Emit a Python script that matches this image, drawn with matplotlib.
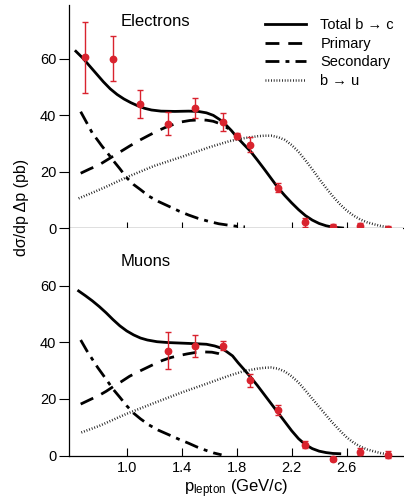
import matplotlib

matplotlib.use("Agg")
import matplotlib.pyplot as plt

plt.rcParams["font.family"] = ["Liberation Sans", "DejaVu Sans"]
plt.rcParams["mathtext.fontset"] = "custom"
plt.rcParams["mathtext.rm"] = "Liberation Sans"
plt.rcParams["mathtext.it"] = "Liberation Sans:italic"

# ---- data ----
# electrons: measured points
e_p = [0.7, 0.9, 1.1, 1.3, 1.5, 1.7, 1.8, 1.9, 2.1, 2.3, 2.5, 2.7, 2.9]
e_val = [60.5, 59.9, 43.9, 37.0, 42.6, 37.4, 32.7, 29.5, 14.3, 2.0, 0.4, 0.6, -0.4]
e_err = [12.5, 8.0, 5.0, 4.2, 3.6, 3.2, 1.0, 2.7, 1.5, 1.5, 1.0, 1.0, 1.0]

# electrons: model curves
e_total_p = [0.63, 0.68, 0.73, 0.78, 0.83, 0.88, 0.93, 0.98, 1.03, 1.08, 1.13, 1.18,
             1.25, 1.35, 1.45, 1.52, 1.58, 1.63, 1.68, 1.72, 1.76, 1.80, 1.85, 1.90,
             1.95, 2.00, 2.05, 2.10, 2.15, 2.20, 2.25, 2.30, 2.35, 2.40, 2.45, 2.50, 2.57]
e_total = [62.6, 60.2, 57.4, 54.6, 51.8, 49.3, 47.3, 45.7, 44.4, 43.3, 42.4, 41.8,
           41.4, 41.3, 41.4, 41.3, 40.8, 39.9, 38.3, 36.6, 34.6, 32.3, 29.7, 27.2,
           24.1, 20.9, 17.6, 14.3, 11.5, 8.9, 6.5, 4.4, 2.8, 1.6, 0.8, 0.3, 0.0]
e_prim_p = [0.665, 0.73, 0.80, 0.85, 0.90, 0.96, 1.02, 1.09, 1.16, 1.22, 1.28, 1.34,
            1.40, 1.46, 1.53, 1.58, 1.63, 1.67, 1.70, 1.74]
e_prim = [19.4, 20.9, 22.4, 23.9, 25.4, 27.2, 29.0, 31.0, 32.8, 34.3, 35.6, 36.7,
          37.6, 38.1, 38.3, 38.2, 37.8, 37.1, 36.4, 35.2]
e_sec_p = [0.665, 0.71, 0.75, 0.79, 0.82, 0.86, 0.90, 0.95, 1.00, 1.05, 1.10, 1.16,
           1.23, 1.31, 1.38, 1.45, 1.52, 1.60, 1.67, 1.74, 1.80, 1.86]
e_sec = [41.2, 37.2, 33.6, 31.0, 29.0, 26.6, 24.0, 21.0, 17.8, 15.4, 13.6, 11.3,
         9.4, 7.6, 6.0, 4.6, 3.4, 2.3, 1.5, 1.0, 0.6, 0.4]
e_bu_p = [0.65, 0.75, 0.85, 1.0, 1.2, 1.4, 1.6, 1.75, 1.85, 1.95, 2.0, 2.05, 2.10,
          2.15, 2.2, 2.25, 2.3, 2.35, 2.4, 2.45, 2.5, 2.55, 2.6, 2.65, 2.7, 2.75,
          2.8, 2.85, 2.9]
e_bu = [10.5, 12.5, 14.6, 18.0, 22.0, 25.2, 28.6, 30.8, 31.8, 32.5, 32.7, 32.7, 32.2,
        31.2, 29.4, 27.0, 24.0, 20.8, 17.4, 14.2, 11.2, 8.5, 6.2, 4.4, 3.0, 2.0,
        1.3, 0.7, 0.3]

# muons: measured points
m_p = [1.3, 1.5, 1.7, 1.9, 2.1, 2.3, 2.5, 2.7, 2.9]
m_val = [37.0, 38.8, 38.8, 26.6, 16.2, 3.9, -1.2, 1.4, 0.4]
m_err = [6.5, 3.9, 1.5, 2.2, 1.8, 1.2, 0.8, 1.2, 1.2]

# muons: model curves
m_total_p = [0.65, 0.70, 0.75, 0.80, 0.85, 0.90, 0.95, 1.00, 1.05, 1.10, 1.15, 1.22,
             1.30, 1.40, 1.50, 1.58, 1.64, 1.69, 1.73, 1.77, 1.81, 1.85, 1.90, 1.95,
             2.00, 2.05, 2.10, 2.15, 2.20, 2.25, 2.30, 2.35, 2.40, 2.45, 2.50, 2.55]
m_total = [58.1, 56.4, 54.6, 52.6, 50.4, 48.0, 45.8, 44.0, 42.6, 41.5, 40.8, 40.2,
           39.9, 39.7, 39.5, 39.3, 38.7, 37.9, 36.6, 35.2, 32.8, 30.6, 27.8, 24.8,
           21.6, 18.4, 15.2, 12.0, 8.8, 6.0, 3.9, 2.5, 1.6, 1.1, 0.8, 0.7]
m_prim_p = [0.665, 0.73, 0.80, 0.85, 0.90, 0.96, 1.02, 1.08, 1.14, 1.20, 1.26, 1.32,
            1.38, 1.44, 1.50, 1.56, 1.62, 1.67, 1.72]
m_prim = [18.2, 19.7, 21.3, 22.7, 24.3, 26.1, 28.0, 29.5, 30.9, 32.3, 33.6, 34.6,
          35.3, 35.9, 36.4, 36.6, 36.5, 36.0, 35.2]
m_sec_p = [0.665, 0.71, 0.75, 0.79, 0.82, 0.86, 0.90, 0.95, 1.00, 1.05, 1.10, 1.16,
           1.23, 1.31, 1.38, 1.45, 1.51, 1.57, 1.63, 1.69]
m_sec = [40.8, 37.0, 34.0, 31.0, 29.0, 26.3, 23.5, 20.6, 17.6, 15.0, 13.0, 10.9,
         9.0, 7.3, 5.8, 4.4, 3.1, 2.0, 1.0, 0.3]
m_bu_p = [0.67, 0.8, 1.0, 1.2, 1.4, 1.6, 1.75, 1.85, 1.95, 2.0, 2.05, 2.10, 2.15,
          2.2, 2.25, 2.3, 2.35, 2.4, 2.45, 2.5, 2.55, 2.6, 2.65, 2.7, 2.75, 2.8,
          2.85, 2.9]
m_bu = [8.2, 10.5, 14.8, 18.6, 22.3, 25.7, 28.3, 29.8, 30.7, 31.0, 31.1, 30.7, 29.7,
        28.0, 25.8, 23.0, 20.1, 17.2, 14.3, 11.5, 8.9, 6.5, 4.6, 3.2, 2.2, 1.5,
        0.9, 0.5]

x_ticks = [1.0, 1.4, 1.8, 2.2, 2.6]
y_ticks = [0, 20, 40, 60]
legend_labels = ["Total b \u2192 c", "Primary", "Secondary", "b \u2192 u"]

RED = "#d9232e"
W, H = 404, 501
left, right = 69, 403


def fig_box(top_px, bottom_px):
    return [left / W, 1 - bottom_px / H, (right - left) / W, (bottom_px - top_px) / H]


def draw_panel(ax, curves, p, val, err):
    (tp, tv), (pp, pv), (sp, sv), (bp, bv) = curves
    h_total, = ax.plot(tp, tv, color="black", lw=2.0)
    h_prim, = ax.plot(pp, pv, color="black", lw=2.0, dashes=(5, 3.2))
    h_sec, = ax.plot(sp, sv, color="black", lw=2.0, dashes=(5, 2.2, 1.4, 2.2))
    h_bu, = ax.plot(bp, bv, color="#1a1a1a", lw=1.8, dashes=(0.35, 0.75))
    ax.errorbar(p, val, yerr=err, fmt="o", color=RED, ms=4.6, elinewidth=1.0,
                capsize=2.5, capthick=1.0, clip_on=False, zorder=5)
    ax.set_xlim(0.58, 3.01)
    ax.set_yticks(y_ticks)
    ax.spines["top"].set_visible(False)
    ax.spines["right"].set_visible(False)
    ax.tick_params(axis="y", direction="out", length=7, width=0.8, labelsize=10.5,
                   pad=2)
    return [h_total, h_prim, h_sec, h_bu]


fig = plt.figure(figsize=(W / 100, H / 100), dpi=100)
ax_e = fig.add_axes(fig_box(5, 228))
ax_m = fig.add_axes(fig_box(228, 455.7))

handles = draw_panel(ax_e, [(e_total_p, e_total), (e_prim_p, e_prim),
                            (e_sec_p, e_sec), (e_bu_p, e_bu)], e_p, e_val, e_err)
draw_panel(ax_m, [(m_total_p, m_total), (m_prim_p, m_prim),
                  (m_sec_p, m_sec), (m_bu_p, m_bu)], m_p, m_val, m_err)

ax_e.set_ylim(0, 79)
ax_m.set_ylim(0, 80.3)

ax_e.set_xticks(x_ticks)
ax_e.tick_params(axis="x", direction="inout", length=8, width=0.8, labelbottom=False)
ax_m.set_xticks(x_ticks)
ax_m.set_xticklabels([f"{t:.1f}" for t in x_ticks])
ax_m.tick_params(axis="x", direction="in", length=6, width=0.8, labelsize=10.5, pad=4)

for ax in (ax_e, ax_m):
    for s in ("left", "bottom"):
        ax.spines[s].set_linewidth(0.9)

ax_e.text(121 / W, 1 - 21 / H, "Electrons", transform=fig.transFigure,
          fontsize=12, va="center", ha="left")
ax_m.text(121 / W, 1 - 262 / H, "Muons", transform=fig.transFigure,
          fontsize=12, va="center", ha="left")

fig.legend(handles, legend_labels, loc="upper left",
           bbox_to_anchor=(265 / W, 1 - 18 / H), frameon=False, fontsize=10.5,
           handlelength=2.8, handletextpad=1.0, labelspacing=0.32,
           borderpad=0, borderaxespad=0)

fig.text(22 / W, 1 - 207 / H, "d\u03c3/dp \u0394p (pb)", rotation=90,
         ha="center", va="center", fontsize=11.5)
fig.text(236 / W, 1 - 489 / H, r"p$_{\mathrm{lepton}}$ (GeV/c)",
         ha="center", va="center", fontsize=12)

fig.savefig("out.png", dpi=100)
